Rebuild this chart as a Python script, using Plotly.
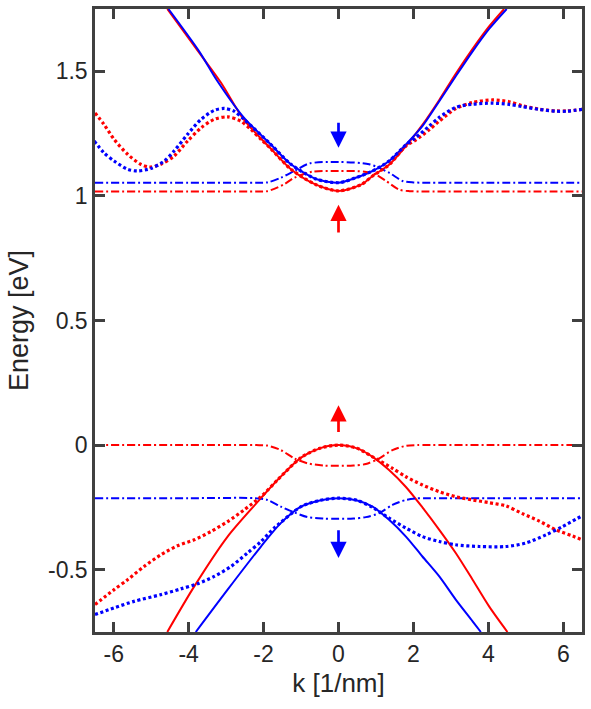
import plotly.graph_objects as go

# ---------------- data ----------------
# Conduction band, solid (red / blue)
k_cb_red = [-4.57, -3.72, -3.14, -2.52, -1.81, -1.27, -0.6, 0.0, 0.6, 0.91, 1.35, 1.8, 2.24, 2.69, 3.13, 3.58, 4.02, 4.42]
E_cb_red = [1.75, 1.575, 1.455, 1.305, 1.19, 1.107, 1.045, 1.02, 1.045, 1.08, 1.125, 1.2, 1.285, 1.385, 1.49, 1.59, 1.68, 1.75]
k_cb_blue = [-4.54, -3.72, -3.23, -2.52, -1.81, -1.27, -0.6, 0.0, 0.46, 0.91, 1.35, 1.8, 2.24, 2.69, 3.13, 3.58, 4.02, 4.49]
E_cb_blue = [1.75, 1.58, 1.46, 1.313, 1.207, 1.127, 1.068, 1.053, 1.073, 1.10, 1.14, 1.207, 1.28, 1.38, 1.48, 1.58, 1.67, 1.75]

# Valence band, solid
k_vb_red = [-4.57, -3.85, -2.96, -2.07, -1.63, -1.0, -0.5, 0.0, 0.5, 0.91, 1.35, 1.8, 2.24, 2.69, 3.13, 3.58, 4.02, 4.51]
E_vb_red = [-0.75, -0.567, -0.367, -0.213, -0.14, -0.05, -0.013, 0.0, -0.013, -0.047, -0.1, -0.168, -0.25, -0.34, -0.433, -0.54, -0.647, -0.75]
k_vb_blue = [-3.81, -2.96, -2.07, -1.54, -1.0, -0.5, 0.0, 0.5, 0.91, 1.35, 1.8, 2.24, 2.69, 3.13, 3.58, 3.8]
E_vb_blue = [-0.75, -0.58, -0.407, -0.313, -0.247, -0.222, -0.213, -0.222, -0.247, -0.30, -0.367, -0.447, -0.527, -0.62, -0.707, -0.75]

# Dash-dot levels (conduction)
k_cdd_blue = [-6.5, -4.0, -2.2, -1.9, -1.54, -1.18, -0.78, 0.0, 0.82, 1.35, 1.71, 2.0, 2.3, 4.0, 6.5]
E_cdd_blue = [1.053, 1.053, 1.053, 1.054, 1.073, 1.10, 1.13, 1.136, 1.127, 1.093, 1.06, 1.054, 1.053, 1.053, 1.053]
k_cdd_red = [-6.5, -4.0, -2.2, -1.9, -1.45, -1.18, -0.7, 0.0, 0.7, 1.0, 1.27, 1.62, 1.9, 2.2, 4.0, 6.5]
E_cdd_red = [1.018, 1.018, 1.018, 1.019, 1.047, 1.073, 1.097, 1.10, 1.097, 1.085, 1.06, 1.025, 1.019, 1.018, 1.018, 1.018]

# Dash-dot levels (valence)
k_vdd_red = [-6.5, -4.0, -2.2, -1.9, -1.54, -1.18, -0.83, -0.4, 0.0, 0.4, 0.73, 1.09, 1.44, 1.8, 2.1, 4.0, 6.5]
E_vdd_red = [0.0, 0.0, 0.0, -0.002, -0.02, -0.053, -0.073, -0.082, -0.083, -0.082, -0.076, -0.053, -0.02, -0.003, 0.0, 0.0, 0.0]
k_vdd_blue = [-6.5, -4.0, -2.25, -1.9, -1.54, -1.18, -0.83, -0.4, 0.0, 0.4, 0.73, 1.09, 1.44, 1.8, 2.07, 2.4, 4.0, 6.5]
E_vdd_blue = [-0.213, -0.213, -0.213, -0.22, -0.247, -0.27, -0.289, -0.295, -0.296, -0.295, -0.289, -0.273, -0.24, -0.22, -0.214, -0.213, -0.213, -0.213]

# Dotted curves (conduction)
k_cdot_blue = [-6.52, -6.26, -5.99, -5.63, -5.37, -5.01, -4.65, -4.39, -4.03, -3.67, -3.32, -3.05, -2.79, -2.52, -1.81, -1.27, -0.6, 0.0, 0.46, 0.91, 1.35, 1.8, 2.07, 2.42, 2.69, 3.13, 3.58, 4.11, 4.56, 4.91, 5.36, 5.8, 6.1, 6.5]
E_cdot_blue = [1.22, 1.173, 1.14, 1.107, 1.10, 1.11, 1.14, 1.18, 1.247, 1.307, 1.343, 1.351, 1.34, 1.307, 1.207, 1.127, 1.068, 1.053, 1.073, 1.10, 1.14, 1.205, 1.235, 1.28, 1.315, 1.355, 1.368, 1.372, 1.367, 1.358, 1.347, 1.34, 1.34, 1.347]
k_cdot_red = [-6.5, -6.26, -5.99, -5.63, -5.28, -5.05, -4.74, -4.39, -4.03, -3.67, -3.32, -2.96, -2.61, -2.34, -2.07, -1.81, -1.27, -0.6, 0.0, 0.6, 0.91, 1.35, 1.8, 2.07, 2.42, 2.69, 3.13, 3.58, 4.11, 4.56, 4.91, 5.36, 5.8, 6.1, 6.5]
E_cdot_red = [1.333, 1.287, 1.227, 1.167, 1.127, 1.116, 1.127, 1.16, 1.22, 1.273, 1.307, 1.317, 1.30, 1.267, 1.227, 1.19, 1.107, 1.045, 1.02, 1.045, 1.08, 1.125, 1.2, 1.225, 1.265, 1.30, 1.35, 1.375, 1.385, 1.378, 1.362, 1.348, 1.341, 1.341, 1.347]

# Dotted curves (valence)
k_vdot_red = [-6.5, -5.99, -5.63, -5.19, -4.74, -4.3, -3.85, -3.41, -2.96, -2.52, -2.07, -1.63, -1.0, -0.5, 0.0, 0.5, 0.91, 1.09, 1.44, 1.8, 2.24, 2.69, 3.13, 3.58, 4.02, 4.47, 4.91, 5.36, 5.8, 6.25, 6.5]
E_vdot_red = [-0.64, -0.58, -0.54, -0.487, -0.44, -0.404, -0.38, -0.347, -0.307, -0.26, -0.207, -0.14, -0.05, -0.013, 0.0, -0.013, -0.047, -0.062, -0.093, -0.127, -0.16, -0.187, -0.207, -0.22, -0.231, -0.244, -0.275, -0.305, -0.34, -0.365, -0.38]
k_vdot_blue = [-6.5, -5.99, -5.46, -4.74, -4.21, -3.76, -3.32, -2.87, -2.43, -2.07, -1.72, -1.54, -1.0, -0.5, 0.0, 0.5, 0.91, 1.35, 1.8, 2.24, 2.69, 3.13, 3.76, 4.47, 5.0, 5.54, 5.98, 6.5]
E_vdot_blue = [-0.68, -0.653, -0.627, -0.60, -0.577, -0.556, -0.527, -0.487, -0.433, -0.387, -0.333, -0.31, -0.247, -0.222, -0.213, -0.222, -0.25, -0.293, -0.333, -0.367, -0.387, -0.40, -0.407, -0.407, -0.393, -0.36, -0.327, -0.284]

# Spin arrows at k = 0 (tail -> tip energy)
arrow_k = [0.0, 0.0, 0.0, 0.0]
arrow_tail = [1.30, 0.847, 0.047, -0.336]
arrow_tip = [1.193, 0.964, 0.16, -0.453]
arrow_color = ["blue", "red", "red", "blue"]

x_ticks = [-6, -4, -2, 0, 2, 4, 6]
x_ticktext = ["-6", "-4", "-2", "0", "2", "4", "6"]
y_ticks = [-0.5, 0, 0.5, 1, 1.5]
y_ticktext = ["-0.5", "0", "0.5", "1", "1.5"]

# ---------------- figure ----------------
RED = "#ff0000"
BLUE = "#0000ff"
DOT = "3px,2.6px"
DASHDOT = "8px,3px,2px,3px"

fig = go.Figure()


def add(k, E, color, dash, width):
    fig.add_trace(go.Scatter(
        x=k, y=E, mode="lines",
        line=dict(color=color, dash=dash, width=width, shape="spline", smoothing=0.8),
        hoverinfo="skip", showlegend=False))


add(k_cb_red, E_cb_red, RED, "solid", 2)
add(k_cb_blue, E_cb_blue, BLUE, "solid", 2)
add(k_vb_red, E_vb_red, RED, "solid", 2)
add(k_vb_blue, E_vb_blue, BLUE, "solid", 2)
add(k_cdd_red, E_cdd_red, RED, DASHDOT, 2)
add(k_cdd_blue, E_cdd_blue, BLUE, DASHDOT, 2)
add(k_vdd_red, E_vdd_red, RED, DASHDOT, 2)
add(k_vdd_blue, E_vdd_blue, BLUE, DASHDOT, 2)
add(k_cdot_red, E_cdot_red, RED, DOT, 3.2)
add(k_cdot_blue, E_cdot_blue, BLUE, DOT, 3.2)
add(k_vdot_red, E_vdot_red, RED, DOT, 3.2)
add(k_vdot_blue, E_vdot_blue, BLUE, DOT, 3.2)

for kx, t0, t1, c in zip(arrow_k, arrow_tail, arrow_tip, arrow_color):
    fig.add_annotation(x=kx, y=t1, ax=kx, ay=t0, xref="x", yref="y", axref="x", ayref="y",
                       text="", showarrow=True, arrowhead=2, arrowsize=1.2, arrowwidth=2.7,
                       arrowcolor=c)

AX = "#404040"
FONT = "Liberation Sans, Arial, Helvetica, sans-serif"
axis_common = dict(
    showline=True, linewidth=2.5, linecolor=AX, mirror="ticks",
    ticks="inside", ticklen=10, tickwidth=2.5, tickcolor=AX,
    showgrid=False, zeroline=False,
    tickfont=dict(family=FONT, size=23, color="#262626"),
)

fig.update_layout(
    width=591, height=709,
    margin=dict(l=95, r=8, t=6, b=77),
    paper_bgcolor="white", plot_bgcolor="white",
    font=dict(family=FONT, color="#262626"),
    xaxis=dict(range=[-6.5, 6.5], tickvals=x_ticks, ticktext=x_ticktext,
               title=dict(text="k [1/nm]", font=dict(family=FONT, size=26, color="#262626"), standoff=8),
               **axis_common),
    yaxis=dict(range=[-0.75, 1.75], tickvals=y_ticks, ticktext=y_ticktext,
               title=dict(text="Energy [eV]", font=dict(family=FONT, size=27, color="#262626"), standoff=12),
               **axis_common),
)

fig.write_html("out.html")
